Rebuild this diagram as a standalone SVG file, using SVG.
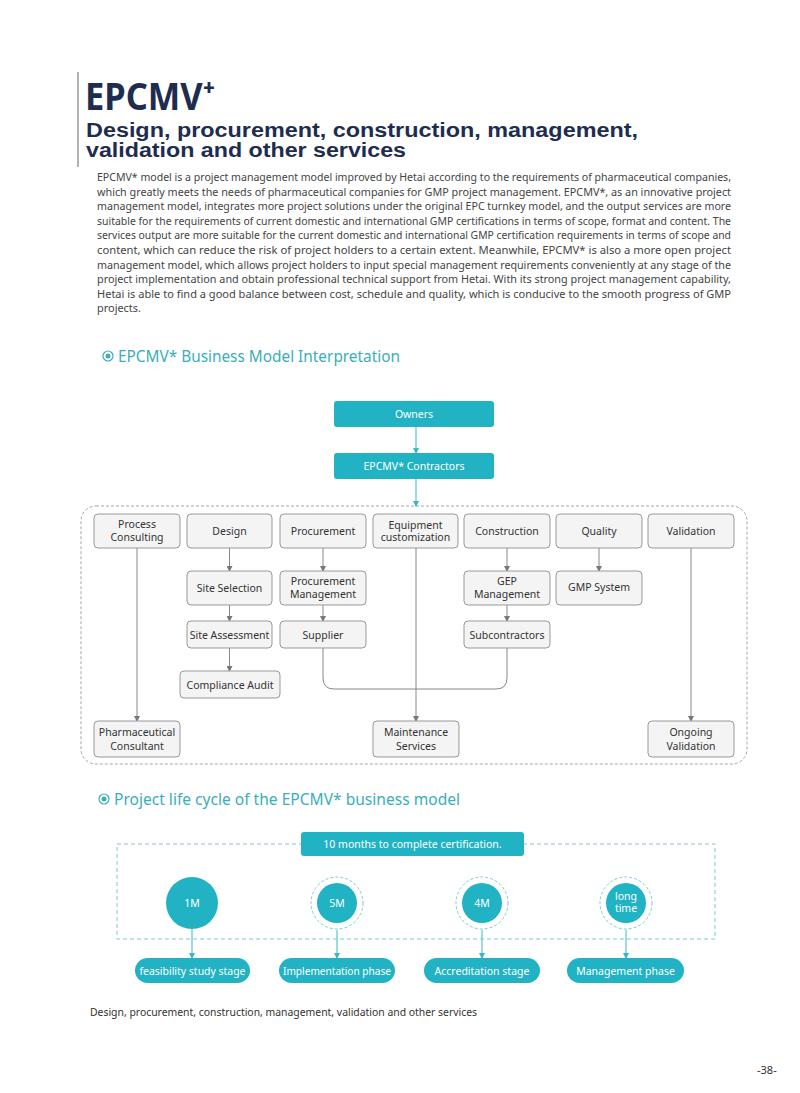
<svg xmlns="http://www.w3.org/2000/svg" width="800" height="1093" viewBox="0 0 800 1093">
<style>
.body{font-family:"Noto Sans","Open Sans",sans-serif;font-size:11px;fill:#444}
.node rect{fill:#f4f4f4;stroke:#999;stroke-width:1}
.node text{font-family:"Noto Sans","Open Sans",sans-serif;font-size:10.5px;fill:#333;text-anchor:middle}
.tnode rect{fill:#21b3c3}
.tnode text{font-family:"Noto Sans","Open Sans",sans-serif;font-size:10.5px;fill:#fff;text-anchor:middle}
.head{font-family:"Noto Sans","Open Sans",sans-serif;font-size:17px;fill:#3aaeba}
.gl{stroke:#888;stroke-width:1;fill:none}
.tl{stroke:#3ab7c5;stroke-width:1;fill:none}
.sub{font-family:"Liberation Sans",Arial,sans-serif;font-weight:bold;font-size:20px;fill:#1e2d4f}
</style>
<defs>
<marker id="ag" markerWidth="6" markerHeight="6" refX="5" refY="3" orient="auto" markerUnits="userSpaceOnUse"><path d="M0,0 L6,3 L0,6 Z" fill="#777"/></marker>
<marker id="at" markerWidth="6" markerHeight="6" refX="5" refY="3" orient="auto" markerUnits="userSpaceOnUse"><path d="M0,0 L6,3 L0,6 Z" fill="#3ab7c5"/></marker>
</defs>
<rect width="800" height="1093" fill="#fff"/>

<g id="title">
<line x1="78" y1="72" x2="78" y2="167" stroke="#999" stroke-width="1.5"/>
<text x="85" y="110" font-family="Noto Sans, Open Sans, sans-serif" font-weight="bold" font-size="38" fill="#1e2d4f" textLength="130" lengthAdjust="spacingAndGlyphs">EPCMV⁺</text>
<text class="sub" x="86" y="137" textLength="552" lengthAdjust="spacingAndGlyphs">Design, procurement, construction, management,</text>
<text class="sub" x="86" y="157" textLength="320" lengthAdjust="spacingAndGlyphs">validation and other services</text>
</g>

<g id="paragraph" class="body">
<text x="97" y="181" textLength="634" lengthAdjust="spacingAndGlyphs">EPCMV* model is a project management model improved by Hetai according to the requirements of pharmaceutical companies,</text>
<text x="97" y="195.6" textLength="634" lengthAdjust="spacingAndGlyphs">which greatly meets the needs of pharmaceutical companies for GMP project management. EPCMV*, as an innovative project</text>
<text x="97" y="210.2" textLength="634" lengthAdjust="spacingAndGlyphs">management model, integrates more project solutions under the original EPC turnkey model, and the output services are more</text>
<text x="97" y="224.8" textLength="634" lengthAdjust="spacingAndGlyphs">suitable for the requirements of current domestic and international GMP certifications in terms of scope, format and content. The</text>
<text x="97" y="239.4" textLength="634" lengthAdjust="spacingAndGlyphs">services output are more suitable for the current domestic and international GMP certification requirements in terms of scope and</text>
<text x="97" y="254" textLength="634" lengthAdjust="spacingAndGlyphs">content, which can reduce the risk of project holders to a certain extent. Meanwhile, EPCMV* is also a more open project</text>
<text x="97" y="268.6" textLength="634" lengthAdjust="spacingAndGlyphs">management model, which allows project holders to input special management requirements conveniently at any stage of the</text>
<text x="97" y="283.2" textLength="634" lengthAdjust="spacingAndGlyphs">project implementation and obtain professional technical support from Hetai. With its strong project management capability,</text>
<text x="97" y="297.8" textLength="634" lengthAdjust="spacingAndGlyphs">Hetai is able to find a good balance between cost, schedule and quality, which is conducive to the smooth progress of GMP</text>
<text x="97" y="312.4" textLength="44" lengthAdjust="spacingAndGlyphs">projects.</text>
</g>

<g id="heading1">
<circle cx="108" cy="356" r="5" fill="none" stroke="#3aaeba" stroke-width="1.2"/>
<circle cx="108" cy="356" r="2.5" fill="#3aaeba"/>
<text class="head" x="118" y="362" textLength="282" lengthAdjust="spacingAndGlyphs">EPCMV* Business Model Interpretation</text>
</g>

<g id="container1">
<rect x="81" y="506" width="666" height="258" rx="15" fill="none" stroke="#a0a8b0" stroke-width="1" stroke-dasharray="3,2"/>
</g>

<g id="connectors">
<line class="tl" x1="416" y1="427" x2="416" y2="453" marker-end="url(#at)"/>
<line class="tl" x1="416" y1="479" x2="416" y2="506" marker-end="url(#at)"/>
<line class="gl" x1="229.5" y1="548" x2="229.5" y2="571" marker-end="url(#ag)"/>
<line class="gl" x1="229.5" y1="605" x2="229.5" y2="621" marker-end="url(#ag)"/>
<line class="gl" x1="229.5" y1="648" x2="229.5" y2="671" marker-end="url(#ag)"/>
<line class="gl" x1="323" y1="548" x2="323" y2="571" marker-end="url(#ag)"/>
<line class="gl" x1="323" y1="605" x2="323" y2="621" marker-end="url(#ag)"/>
<line class="gl" x1="507" y1="548" x2="507" y2="571" marker-end="url(#ag)"/>
<line class="gl" x1="507" y1="605" x2="507" y2="621" marker-end="url(#ag)"/>
<line class="gl" x1="599" y1="548" x2="599" y2="571" marker-end="url(#ag)"/>
<line class="gl" x1="137" y1="548" x2="137" y2="721" marker-end="url(#ag)"/>
<line class="gl" x1="416" y1="548" x2="416" y2="721" marker-end="url(#ag)"/>
<line class="gl" x1="691" y1="548" x2="691" y2="721" marker-end="url(#ag)"/>
<path class="gl" d="M323,648 V678 Q323,689 334,689 H496 Q507,689 507,678 V648"/>
<line class="tl" x1="192" y1="929" x2="192" y2="958" marker-end="url(#at)"/>
<line class="tl" x1="337" y1="930" x2="337" y2="958" marker-end="url(#at)"/>
<line class="tl" x1="482" y1="930" x2="482" y2="958" marker-end="url(#at)"/>
<line class="tl" x1="626" y1="930" x2="626" y2="958" marker-end="url(#at)"/>
</g>

<g id="owners" class="tnode"><rect x="334" y="401" width="160" height="26" rx="3"/><text x="414" y="418">Owners</text></g>
<g id="contractors" class="tnode"><rect x="334" y="453" width="160" height="26" rx="3"/><text x="414" y="470">EPCMV* Contractors</text></g>

<g id="process-consulting" class="node"><rect x="94" y="514" width="86" height="34" rx="4"/><text x="137" y="528">Process</text><text x="137" y="540.5">Consulting</text></g>
<g id="design" class="node"><rect x="187" y="514" width="85" height="34" rx="4"/><text x="229.5" y="535">Design</text></g>
<g id="procurement" class="node"><rect x="280" y="514" width="86" height="34" rx="4"/><text x="323" y="535">Procurement</text></g>
<g id="equipment" class="node"><rect x="373" y="514" width="85" height="34" rx="4"/><text x="415.5" y="528.5">Equipment</text><text x="415.5" y="541">customization</text></g>
<g id="construction" class="node"><rect x="464" y="514" width="86" height="34" rx="4"/><text x="507" y="535">Construction</text></g>
<g id="quality" class="node"><rect x="556" y="514" width="86" height="34" rx="4"/><text x="599" y="535">Quality</text></g>
<g id="validation" class="node"><rect x="648" y="514" width="86" height="34" rx="4"/><text x="691" y="535">Validation</text></g>

<g id="site-selection" class="node"><rect x="187" y="571" width="85" height="34" rx="4"/><text x="229.5" y="592">Site Selection</text></g>
<g id="procurement-management" class="node"><rect x="280" y="571" width="86" height="34" rx="4"/><text x="323" y="585">Procurement</text><text x="323" y="597.5">Management</text></g>
<g id="gep-management" class="node"><rect x="464" y="571" width="86" height="34" rx="4"/><text x="507" y="585">GEP</text><text x="507" y="597.5">Management</text></g>
<g id="gmp-system" class="node"><rect x="556" y="571" width="86" height="34" rx="4"/><text x="599" y="591">GMP System</text></g>

<g id="site-assessment" class="node"><rect x="187" y="621" width="85" height="27" rx="4"/><text x="229.5" y="638.5">Site Assessment</text></g>
<g id="supplier" class="node"><rect x="280" y="621" width="86" height="27" rx="4"/><text x="323" y="638.5">Supplier</text></g>
<g id="subcontractors" class="node"><rect x="464" y="621" width="86" height="27" rx="4"/><text x="507" y="638.5">Subcontractors</text></g>
<g id="compliance-audit" class="node"><rect x="180" y="671" width="100" height="27" rx="4"/><text x="230" y="688.5">Compliance Audit</text></g>

<g id="pharmaceutical-consultant" class="node"><rect x="94" y="721" width="86" height="36" rx="4"/><text x="137" y="736">Pharmaceutical</text><text x="137" y="750">Consultant</text></g>
<g id="maintenance-services" class="node"><rect x="373" y="721" width="86" height="36" rx="4"/><text x="416" y="736">Maintenance</text><text x="416" y="750">Services</text></g>
<g id="ongoing-validation" class="node"><rect x="648" y="721" width="86" height="36" rx="4"/><text x="691" y="736">Ongoing</text><text x="691" y="750">Validation</text></g>

<g id="heading2">
<circle cx="104" cy="799" r="5" fill="none" stroke="#3aaeba" stroke-width="1.2"/>
<circle cx="104" cy="799" r="2.5" fill="#3aaeba"/>
<text class="head" x="114" y="805" textLength="346" lengthAdjust="spacingAndGlyphs">Project life cycle of the EPCMV* business model</text>
</g>

<g id="container2">
<rect x="117" y="844" width="598" height="95" fill="none" stroke="#7fcad3" stroke-width="1" stroke-dasharray="4,3"/>
</g>
<g id="certification" class="tnode"><rect x="301" y="832" width="223" height="24" rx="3"/><text x="412.5" y="848">10 months to complete certification.</text></g>

<g id="c1m" class="tnode"><circle cx="192" cy="903" r="26" fill="#21b3c3"/><text x="192" y="907">1M</text></g>
<g id="c5m" class="tnode"><circle cx="337" cy="903" r="26" fill="none" stroke="#7fcad3" stroke-dasharray="3,2"/><circle cx="337" cy="903" r="20" fill="#21b3c3"/><text x="337" y="907">5M</text></g>
<g id="c4m" class="tnode"><circle cx="482" cy="903" r="26" fill="none" stroke="#7fcad3" stroke-dasharray="3,2"/><circle cx="482" cy="903" r="20" fill="#21b3c3"/><text x="482" y="907">4M</text></g>
<g id="clong" class="tnode"><circle cx="626" cy="903" r="26" fill="none" stroke="#7fcad3" stroke-dasharray="3,2"/><circle cx="626" cy="903" r="20" fill="#21b3c3"/><text x="626" y="900">long</text><text x="626" y="912">time</text></g>

<g id="feasibility" class="tnode"><rect x="135" y="958" width="115" height="25" rx="12.5"/><text x="192.5" y="974.5" textLength="106" lengthAdjust="spacingAndGlyphs">feasibility study stage</text></g>
<g id="implementation" class="tnode"><rect x="279" y="958" width="116" height="25" rx="12.5"/><text x="337" y="974.5" textLength="108" lengthAdjust="spacingAndGlyphs">Implementation phase</text></g>
<g id="accreditation" class="tnode"><rect x="424" y="958" width="116" height="25" rx="12.5"/><text x="482" y="974.5">Accreditation stage</text></g>
<g id="management" class="tnode"><rect x="567" y="958" width="117" height="25" rx="12.5"/><text x="625.5" y="974.5">Management phase</text></g>

<g id="footer">
<text x="90" y="1016" font-family="Noto Sans, Open Sans, sans-serif" font-size="11" fill="#333" textLength="387" lengthAdjust="spacingAndGlyphs">Design, procurement, construction, management, validation and other services</text>
<text x="757" y="1074" font-family="Noto Sans, Open Sans, sans-serif" font-size="11" fill="#333">-38-</text>
</g>
</svg>
